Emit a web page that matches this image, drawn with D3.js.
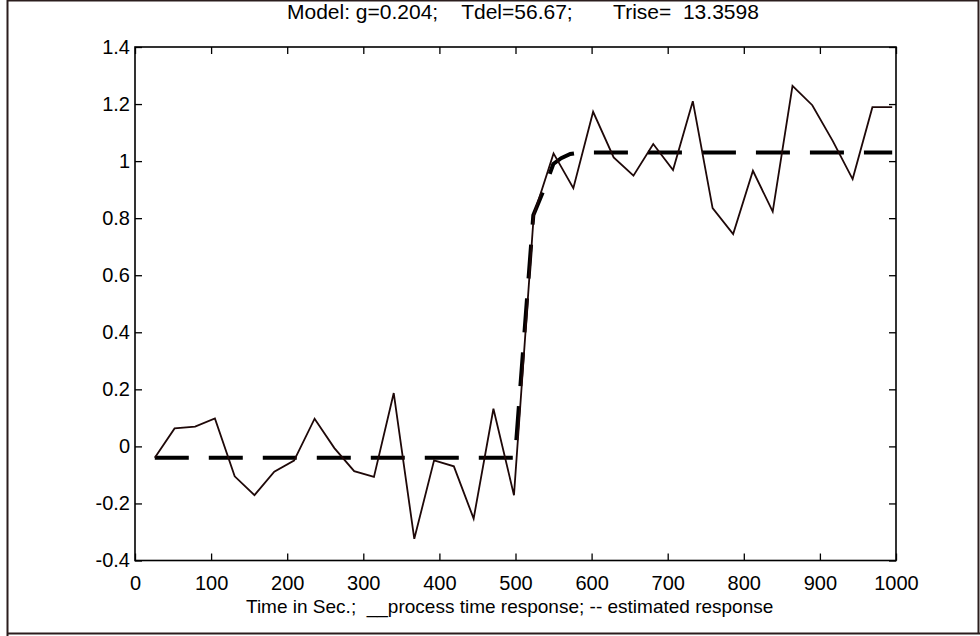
<!DOCTYPE html>
<html>
<head>
<meta charset="utf-8">
<script src="https://cdn.jsdelivr.net/npm/d3@7"></script>
<style>
  body { margin: 0; background: #fff; }
  text { font-family: "Liberation Sans", Arial, sans-serif; }
</style>
</head>
<body>
<script>
// process time response (sampled)
var times = [26, 52, 79, 105, 131, 157, 183, 209, 236, 262, 288, 314, 340, 367, 393, 419, 445, 471, 498,
             524, 550, 576, 602, 629, 655, 681, 707, 733, 759, 786, 812, 838, 864, 890, 917, 943, 969, 995];
var process = [-0.04, 0.063, 0.069, 0.098, -0.105, -0.171, -0.089, -0.05, 0.097, -0.006, -0.087, -0.107, 0.187,
               -0.324, -0.049, -0.07, -0.253, 0.132, -0.171, 0.811, 1.027, 0.905, 1.173, 1.013, 0.949, 1.06,
               0.969, 1.21, 0.835, 0.744, 0.966, 0.823, 1.264, 1.196, 1.07, 0.937, 1.189, 1.189];

// estimated (model) response
var estTimes = [26, 498, 499.3, 523.4, 538.8, 549.7, 560, 572, 585, 995];
var estimate = [-0.04, -0.04, -0.04, 0.81, 0.91, 0.99, 1.01, 1.025, 1.03, 1.03];

var xTicks = [0, 100, 200, 300, 400, 500, 600, 700, 800, 900, 1000];
var yTicks = [-0.4, -0.2, 0, 0.2, 0.4, 0.6, 0.8, 1, 1.2, 1.4];

var titleText = "Model: g=0.204;    Tdel=56.67;       Trise=  13.3598";
var xLabel = "Time in Sec.;  __process time response; -- estimated response";

var W = 980, H = 636;
var margin = {top: 47, right: 84, bottom: 75.5, left: 135};
var width = W - margin.left - margin.right;
var height = H - margin.top - margin.bottom;

var svg = d3.select("body").append("svg")
    .attr("width", W)
    .attr("height", H);

// outer frame
svg.append("path")
    .attr("d", "M7.5,636 V0.5 H978.5 V633 M7,633.5 H980")
    .attr("fill", "none")
    .attr("stroke", "#2b1d1d")
    .attr("stroke-width", 2);

var g = svg.append("g")
    .attr("transform", "translate(" + margin.left + "," + margin.top + ")");

var x = d3.scaleLinear().domain([0, 1000]).range([0, width]);
var y = d3.scaleLinear().domain([-0.4, 1.4]).range([height, 0]);

// plain hyphen for negatives, like the original
var fmt = function(d) { return String(+d.toFixed(1)); };

// axes, ticks pointing inward
g.append("g").attr("transform", "translate(0," + height + ")")
    .call(d3.axisBottom(x).tickValues(xTicks).tickSize(-7).tickPadding(15).tickFormat(fmt));
g.append("g")
    .call(d3.axisTop(x).tickValues(xTicks).tickSize(-7).tickFormat(""));
g.append("g")
    .call(d3.axisLeft(y).tickValues(yTicks).tickSize(-7).tickPadding(5).tickFormat(fmt));
g.append("g").attr("transform", "translate(" + width + ",0)")
    .call(d3.axisRight(y).tickValues(yTicks).tickSize(-7).tickFormat(""));

g.selectAll(".domain").remove();
g.selectAll(".tick line").attr("stroke", "#000").attr("stroke-width", 1.3);
g.selectAll(".tick text").attr("fill", "#000").style("font-size", "20px")
    .style("font-family", "'Liberation Sans', Arial, sans-serif");

g.append("rect")
    .attr("width", width)
    .attr("height", height)
    .attr("fill", "none")
    .attr("stroke", "#000")
    .attr("stroke-width", 1.6);

var line = d3.line()
    .x(function(d) { return x(d[0]); })
    .y(function(d) { return y(d[1]); });

g.append("path")
    .datum(d3.zip(estTimes, estimate))
    .attr("d", line)
    .attr("fill", "none")
    .attr("stroke", "#000")
    .attr("stroke-width", 4)
    .attr("stroke-dasharray", "34,20");

g.append("path")
    .datum(d3.zip(times, process))
    .attr("d", line)
    .attr("fill", "none")
    .attr("stroke", "#1e0808")
    .attr("stroke-width", 1.8)
    .attr("stroke-linejoin", "miter");

svg.append("text")
    .attr("x", 287)
    .attr("y", 19)
    .style("font-size", "21px")
    .style("white-space", "pre")
    .text(titleText);

svg.append("text")
    .attr("x", 246)
    .attr("y", 613)
    .style("font-size", "19px")
    .style("white-space", "pre")
    .text(xLabel);
</script>
</body>
</html>
